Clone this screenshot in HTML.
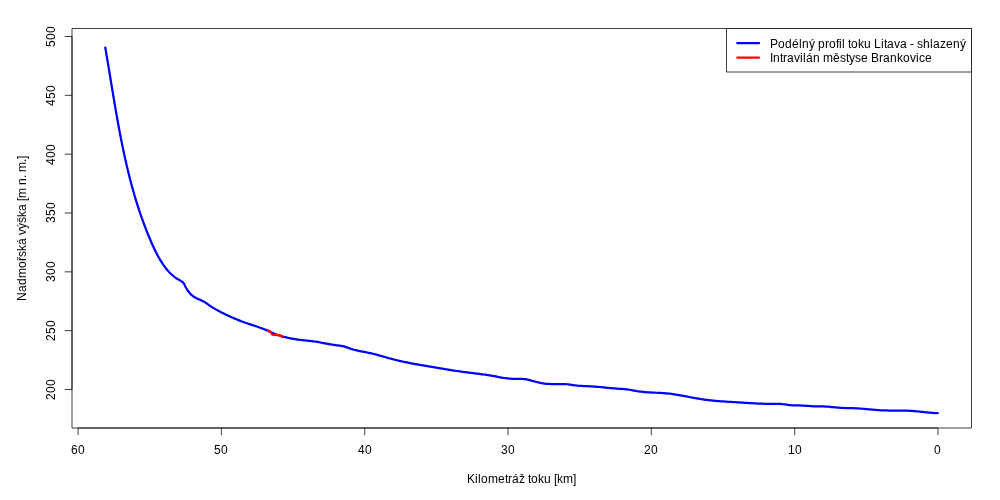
<!DOCTYPE html>
<html><head><meta charset="utf-8"><style>
html,body{margin:0;padding:0;background:#fff;overflow:hidden;}
svg{display:block;will-change:transform;}
text{font-family:"Liberation Sans",sans-serif;font-size:12px;fill:#000;}
</style></head><body>
<svg width="1000" height="500" viewBox="0 0 1000 500">
<rect x="0" y="0" width="1000" height="500" fill="#fff"/>
<g stroke="#000" stroke-width="0.75" fill="none">
<path d="M72,28.5 L971.5,28.5 L971.5,428 L72,428 Z"/>
<line x1="78.10" y1="428" x2="938.00" y2="428"/>
<line x1="72" y1="389.50" x2="72" y2="36.50"/>
<line x1="78.10" y1="428" x2="78.10" y2="435.2"/><line x1="221.41" y1="428" x2="221.41" y2="435.2"/><line x1="364.73" y1="428" x2="364.73" y2="435.2"/><line x1="508.05" y1="428" x2="508.05" y2="435.2"/><line x1="651.37" y1="428" x2="651.37" y2="435.2"/><line x1="794.68" y1="428" x2="794.68" y2="435.2"/><line x1="938.00" y1="428" x2="938.00" y2="435.2"/><line x1="64.8" y1="36.50" x2="72" y2="36.50"/><line x1="64.8" y1="95.33" x2="72" y2="95.33"/><line x1="64.8" y1="154.17" x2="72" y2="154.17"/><line x1="64.8" y1="213.00" x2="72" y2="213.00"/><line x1="64.8" y1="271.83" x2="72" y2="271.83"/><line x1="64.8" y1="330.67" x2="72" y2="330.67"/><line x1="64.8" y1="389.50" x2="72" y2="389.50"/>
</g>
<path d="M105.30,47.70 L105.54,49.20 L105.79,50.67 L106.05,52.14 L106.30,53.61 L106.55,55.08 L106.80,56.55 L107.05,58.03 L107.30,59.50 L107.55,60.98 L107.80,62.45 L108.04,63.93 L108.29,65.40 L108.53,66.88 L108.78,68.36 L109.03,69.84 L109.27,71.32 L109.51,72.80 L109.76,74.27 L110.00,75.75 L110.25,77.24 L110.49,78.72 L110.73,80.20 L110.98,81.68 L111.22,83.16 L111.47,84.64 L111.71,86.13 L111.96,87.61 L112.20,89.09 L112.45,90.58 L112.69,92.06 L112.94,93.54 L113.19,95.03 L113.43,96.51 L113.68,97.99 L113.93,99.48 L114.18,100.96 L114.43,102.45 L114.68,103.93 L114.93,105.41 L115.19,106.90 L115.44,108.38 L115.70,109.87 L115.96,111.35 L116.21,112.83 L116.47,114.32 L116.73,115.80 L117.00,117.28 L117.26,118.77 L117.53,120.25 L117.79,121.73 L118.06,123.21 L118.33,124.69 L118.60,126.18 L118.88,127.66 L119.15,129.14 L119.43,130.62 L119.71,132.10 L119.99,133.58 L120.27,135.06 L120.56,136.53 L120.85,138.01 L121.14,139.49 L121.43,140.97 L121.73,142.44 L122.02,143.92 L122.32,145.39 L122.62,146.87 L122.93,148.34 L123.24,149.81 L123.55,151.29 L123.86,152.76 L124.18,154.23 L124.50,155.70 L124.82,157.17 L125.14,158.63 L125.47,160.10 L125.80,161.57 L126.14,163.03 L126.47,164.50 L126.81,165.96 L127.16,167.42 L127.50,168.89 L127.86,170.35 L128.21,171.81 L128.57,173.26 L128.93,174.72 L129.29,176.18 L129.66,177.63 L130.04,179.09 L130.41,180.54 L130.79,181.99 L131.18,183.44 L131.57,184.89 L131.96,186.34 L132.35,187.79 L132.75,189.23 L133.16,190.68 L133.57,192.12 L133.98,193.56 L134.40,195.00 L134.82,196.44 L135.25,197.87 L135.68,199.31 L136.12,200.74 L136.56,202.18 L137.01,203.61 L137.46,205.04 L137.91,206.46 L138.37,207.89 L138.84,209.31 L139.31,210.74 L139.78,212.16 L140.26,213.58 L140.75,215.00 L141.24,216.41 L141.74,217.83 L142.24,219.24 L142.74,220.65 L143.26,222.06 L143.78,223.46 L144.30,224.87 L144.83,226.27 L145.36,227.67 L145.90,229.07 L146.45,230.47 L147.00,231.86 L147.56,233.26 L148.13,234.65 L148.70,236.04 L149.27,237.42 L149.86,238.81 L150.45,240.19 L151.04,241.57 L151.64,242.95 L152.25,244.33 L152.87,245.70 L153.50,247.07 L154.13,248.43 L154.78,249.79 L155.44,251.14 L156.11,252.49 L156.80,253.83 L157.50,255.16 L158.22,256.48 L158.96,257.79 L159.71,259.10 L160.49,260.39 L161.28,261.67 L162.09,262.94 L162.93,264.20 L163.79,265.44 L164.68,266.66 L165.59,267.86 L166.52,269.04 L167.49,270.20 L168.48,271.32 L169.50,272.42 L170.55,273.48 L171.63,274.50 L172.75,275.49 L173.90,276.44 L175.08,277.35 L176.30,278.21 L177.57,279.03 L178.91,279.83 L180.32,280.62 L181.68,281.43 L182.86,282.31 L183.75,283.31 L184.40,284.42 L184.97,285.64 L185.62,286.94 L186.37,288.29 L187.20,289.67 L188.11,291.03 L189.09,292.35 L190.14,293.59 L191.25,294.72 L192.41,295.71 L193.61,296.58 L194.84,297.34 L196.10,298.03 L197.38,298.65 L198.67,299.23 L199.97,299.80 L201.26,300.36 L202.55,300.96 L203.83,301.61 L205.11,302.35 L206.38,303.19 L207.66,304.11 L208.93,305.04 L210.21,305.96 L211.49,306.82 L212.77,307.63 L214.06,308.40 L215.35,309.14 L216.65,309.86 L217.96,310.57 L219.28,311.27 L220.61,311.96 L221.94,312.64 L223.28,313.32 L224.63,313.98 L225.98,314.64 L227.35,315.29 L228.71,315.93 L230.08,316.56 L231.46,317.17 L232.84,317.78 L234.23,318.38 L235.62,318.96 L237.01,319.54 L238.40,320.10 L239.80,320.65 L241.20,321.19 L242.60,321.71 L244.00,322.22 L245.41,322.72 L246.81,323.21 L248.22,323.69 L249.62,324.16 L251.03,324.62 L252.43,325.08 L253.84,325.55 L255.24,326.02 L256.65,326.49 L258.06,326.97 L259.47,327.47 L260.87,327.98 L262.28,328.50 L263.69,329.05 L265.09,329.62 L266.50,330.21 L267.91,330.83 L269.32,331.47 L270.72,332.12 L272.13,332.76 L273.54,333.38 L274.95,333.96 L276.37,334.50 L277.78,335.01 L279.20,335.47 L280.62,335.91 L282.04,336.32 L283.47,336.72 L284.89,337.09 L286.33,337.44 L287.77,337.77 L289.21,338.09 L290.66,338.38 L292.11,338.66 L293.57,338.93 L295.03,339.17 L296.50,339.40 L297.98,339.61 L299.46,339.81 L300.95,339.99 L302.45,340.16 L303.95,340.31 L305.46,340.47 L306.97,340.62 L308.48,340.78 L309.99,340.94 L311.50,341.11 L313.01,341.29 L314.51,341.50 L316.02,341.72 L317.51,341.97 L319.00,342.23 L320.49,342.51 L321.98,342.79 L323.46,343.08 L324.94,343.37 L326.41,343.66 L327.88,343.94 L329.35,344.22 L330.81,344.47 L332.28,344.71 L333.74,344.93 L335.20,345.13 L336.65,345.30 L338.11,345.46 L339.56,345.63 L341.02,345.84 L342.47,346.09 L343.92,346.41 L345.37,346.82 L346.83,347.31 L348.28,347.85 L349.73,348.38 L351.18,348.88 L352.63,349.33 L354.09,349.74 L355.54,350.11 L357.00,350.46 L358.45,350.78 L359.91,351.08 L361.36,351.37 L362.82,351.65 L364.27,351.92 L365.73,352.20 L367.19,352.48 L368.65,352.78 L370.11,353.09 L371.57,353.42 L373.03,353.78 L374.49,354.15 L375.95,354.53 L377.41,354.93 L378.87,355.33 L380.33,355.75 L381.79,356.16 L383.26,356.58 L384.72,357.00 L386.19,357.42 L387.65,357.84 L389.11,358.24 L390.58,358.64 L392.05,359.03 L393.51,359.41 L394.98,359.78 L396.45,360.13 L397.91,360.48 L399.38,360.82 L400.85,361.16 L402.32,361.48 L403.79,361.80 L405.26,362.10 L406.73,362.41 L408.20,362.70 L409.67,362.99 L411.14,363.27 L412.61,363.55 L414.08,363.82 L415.55,364.09 L417.03,364.35 L418.50,364.61 L419.97,364.87 L421.45,365.12 L422.92,365.37 L424.39,365.61 L425.87,365.86 L427.34,366.10 L428.82,366.34 L430.29,366.58 L431.77,366.82 L433.25,367.06 L434.72,367.30 L436.20,367.54 L437.68,367.78 L439.16,368.03 L440.63,368.28 L442.11,368.53 L443.59,368.78 L445.07,369.03 L446.55,369.28 L448.03,369.54 L449.51,369.79 L450.99,370.03 L452.47,370.28 L453.95,370.52 L455.43,370.76 L456.91,370.99 L458.39,371.21 L459.87,371.43 L461.36,371.64 L462.84,371.84 L464.32,372.04 L465.80,372.23 L467.29,372.42 L468.77,372.60 L470.25,372.79 L471.74,372.97 L473.22,373.15 L474.71,373.33 L476.19,373.51 L477.67,373.70 L479.16,373.89 L480.64,374.08 L482.13,374.28 L483.62,374.49 L485.10,374.70 L486.59,374.93 L488.07,375.16 L489.56,375.40 L491.05,375.66 L492.53,375.92 L494.02,376.19 L495.51,376.46 L496.99,376.73 L498.48,377.00 L499.97,377.27 L501.46,377.52 L502.95,377.77 L504.43,378.00 L505.92,378.21 L507.41,378.40 L508.90,378.57 L510.39,378.71 L511.88,378.82 L513.37,378.90 L514.85,378.94 L516.34,378.95 L517.83,378.94 L519.32,378.92 L520.81,378.93 L522.30,378.97 L523.79,379.06 L525.28,379.22 L526.77,379.47 L528.26,379.78 L529.75,380.15 L531.24,380.55 L532.73,380.96 L534.22,381.38 L535.71,381.79 L537.21,382.17 L538.70,382.52 L540.19,382.84 L541.68,383.13 L543.17,383.38 L544.66,383.60 L546.15,383.77 L547.64,383.90 L549.13,383.99 L550.62,384.05 L552.12,384.09 L553.61,384.11 L555.10,384.11 L556.59,384.10 L558.08,384.09 L559.57,384.08 L561.06,384.07 L562.56,384.08 L564.05,384.10 L565.54,384.16 L567.03,384.25 L568.52,384.40 L570.01,384.59 L571.50,384.82 L572.99,385.07 L574.49,385.30 L575.98,385.49 L577.47,385.63 L578.96,385.75 L580.45,385.84 L581.94,385.93 L583.43,386.01 L584.92,386.09 L586.42,386.16 L587.91,386.24 L589.40,386.31 L590.89,386.39 L592.38,386.47 L593.87,386.56 L595.36,386.66 L596.85,386.76 L598.34,386.88 L599.83,387.00 L601.33,387.14 L602.82,387.29 L604.31,387.45 L605.80,387.61 L607.29,387.77 L608.78,387.93 L610.27,388.09 L611.76,388.24 L613.25,388.37 L614.74,388.49 L616.23,388.60 L617.72,388.69 L619.21,388.78 L620.71,388.86 L622.20,388.95 L623.69,389.06 L625.18,389.18 L626.67,389.33 L628.16,389.52 L629.65,389.74 L631.14,390.00 L632.63,390.30 L634.12,390.59 L635.61,390.87 L637.10,391.13 L638.60,391.35 L640.09,391.55 L641.58,391.73 L643.07,391.89 L644.56,392.03 L646.05,392.15 L647.54,392.26 L649.03,392.36 L650.52,392.45 L652.01,392.53 L653.51,392.61 L655.00,392.68 L656.49,392.75 L657.98,392.83 L659.47,392.90 L660.96,392.98 L662.45,393.07 L663.95,393.17 L665.44,393.28 L666.93,393.41 L668.42,393.55 L669.91,393.71 L671.40,393.89 L672.89,394.08 L674.39,394.30 L675.88,394.53 L677.37,394.77 L678.86,395.03 L680.35,395.30 L681.85,395.57 L683.34,395.85 L684.83,396.14 L686.32,396.43 L687.82,396.73 L689.31,397.02 L690.80,397.31 L692.29,397.60 L693.79,397.88 L695.28,398.16 L696.77,398.43 L698.26,398.69 L699.76,398.94 L701.25,399.17 L702.74,399.40 L704.24,399.61 L705.73,399.80 L707.22,399.99 L708.72,400.17 L710.21,400.33 L711.70,400.49 L713.20,400.64 L714.69,400.78 L716.19,400.91 L717.68,401.03 L719.17,401.15 L720.67,401.27 L722.16,401.37 L723.66,401.48 L725.15,401.57 L726.65,401.67 L728.14,401.76 L729.63,401.85 L731.13,401.94 L732.62,402.03 L734.12,402.11 L735.61,402.20 L737.11,402.29 L738.60,402.38 L740.10,402.47 L741.59,402.56 L743.09,402.66 L744.58,402.76 L746.08,402.85 L747.58,402.95 L749.07,403.04 L750.57,403.14 L752.06,403.23 L753.56,403.32 L755.05,403.40 L756.55,403.48 L758.05,403.55 L759.54,403.62 L761.04,403.68 L762.53,403.73 L764.03,403.77 L765.53,403.81 L767.02,403.83 L768.52,403.85 L770.01,403.85 L771.51,403.84 L773.01,403.83 L774.50,403.82 L776.00,403.82 L777.50,403.84 L778.99,403.89 L780.49,403.97 L781.99,404.09 L783.48,404.25 L784.98,404.43 L786.48,404.62 L787.97,404.82 L789.47,405.01 L790.97,405.17 L792.47,405.29 L793.96,405.36 L795.46,405.40 L796.96,405.42 L798.45,405.44 L799.95,405.46 L801.45,405.51 L802.95,405.58 L804.44,405.67 L805.94,405.77 L807.44,405.88 L808.94,405.98 L810.43,406.09 L811.93,406.18 L813.43,406.27 L814.93,406.33 L816.43,406.37 L817.92,406.39 L819.42,406.41 L820.92,406.42 L822.42,406.44 L823.92,406.48 L825.41,406.54 L826.91,406.63 L828.41,406.74 L829.91,406.87 L831.41,407.01 L832.90,407.16 L834.40,407.30 L835.90,407.45 L837.40,407.59 L838.90,407.71 L840.40,407.81 L841.89,407.90 L843.39,407.96 L844.89,408.01 L846.39,408.05 L847.89,408.08 L849.39,408.11 L850.89,408.14 L852.38,408.17 L853.88,408.22 L855.38,408.27 L856.88,408.34 L858.38,408.42 L859.88,408.52 L861.38,408.63 L862.88,408.75 L864.37,408.88 L865.87,409.02 L867.37,409.15 L868.87,409.30 L870.37,409.44 L871.87,409.58 L873.37,409.72 L874.87,409.85 L876.37,409.97 L877.87,410.09 L879.36,410.19 L880.86,410.28 L882.36,410.35 L883.86,410.41 L885.36,410.45 L886.86,410.49 L888.36,410.51 L889.86,410.53 L891.36,410.54 L892.86,410.55 L894.35,410.56 L895.85,410.56 L897.35,410.56 L898.85,410.57 L900.35,410.57 L901.85,410.59 L903.35,410.60 L904.85,410.63 L906.35,410.66 L907.85,410.71 L909.35,410.77 L910.85,410.84 L912.35,410.92 L913.84,411.03 L915.34,411.15 L916.84,411.29 L918.34,411.44 L919.84,411.60 L921.34,411.76 L922.84,411.93 L924.34,412.10 L925.84,412.26 L927.34,412.42 L928.84,412.57 L930.34,412.71 L931.84,412.83 L933.33,412.94 L934.83,413.02 L936.33,413.08 L937.80,413.10" fill="none" stroke="#0000ff" stroke-width="2.25" stroke-linecap="round" stroke-linejoin="round"/>
<path d="M267.80,330.20 L270.00,331.40 L272.30,334.60 L274.50,334.90 L280.50,335.30 L282.30,336.90" fill="none" stroke="#ff0000" stroke-width="2.25" stroke-linecap="round" stroke-linejoin="round"/>
<path d="M726.5,28.5 L971.5,28.5 L971.5,72 L726.5,72 Z" fill="#fff" stroke="#000" stroke-width="0.75"/>
<line x1="737.3" y1="43.2" x2="759.0" y2="43.2" stroke="#0000ff" stroke-width="2.25" stroke-linecap="round"/>
<line x1="737.3" y1="57.6" x2="759.0" y2="57.6" stroke="#ff0000" stroke-width="2.25" stroke-linecap="round"/>
<text x="71 78" y="454">60</text><text x="214 221" y="454">50</text><text x="358 365" y="454">40</text><text x="501 508" y="454">30</text><text x="644 651" y="454">20</text><text x="788 795" y="454">10</text><text x="934" y="454">0</text><text transform="translate(55,47) rotate(-90)" x="0 7 14" y="0">500</text><text transform="translate(55,106) rotate(-90)" x="0 7 14" y="0">450</text><text transform="translate(55,165) rotate(-90)" x="0 7 14" y="0">400</text><text transform="translate(55,223) rotate(-90)" x="0 7 14" y="0">350</text><text transform="translate(55,282) rotate(-90)" x="0 7 14" y="0">300</text><text transform="translate(55,341) rotate(-90)" x="0 7 14" y="0">250</text><text transform="translate(55,400) rotate(-90)" x="0 7 14" y="0">200</text><text x="467 475 478 481 488 498 505 508 512 519 525 528 531 538 544 551 554 557 563 573" y="483">Kilometráž toku [km]</text><text transform="translate(26,301) rotate(-90)" x="0 9 16 23 33 40 44 50 56 63 66 72 78 84 90 97 100 103 113 116 123 126 129 139 142" y="0">Nadmořská výška [m n. m.]</text><text x="770 778 785 792 799 802 809 815 818 825 829 836 839 842 845 848 851 858 864 871 874 881 884 887 894 900 907 910 914 917 923 930 933 940 946 953 960" y="48">Podélný profil toku Litava - shlazený</text><text x="770 773 780 783 787 794 800 803 806 813 820 823 833 840 846 849 855 861 868 871 879 883 890 897 903 910 916 919 925" y="62">Intravilán městyse Brankovice</text>
</svg>
</body></html>
